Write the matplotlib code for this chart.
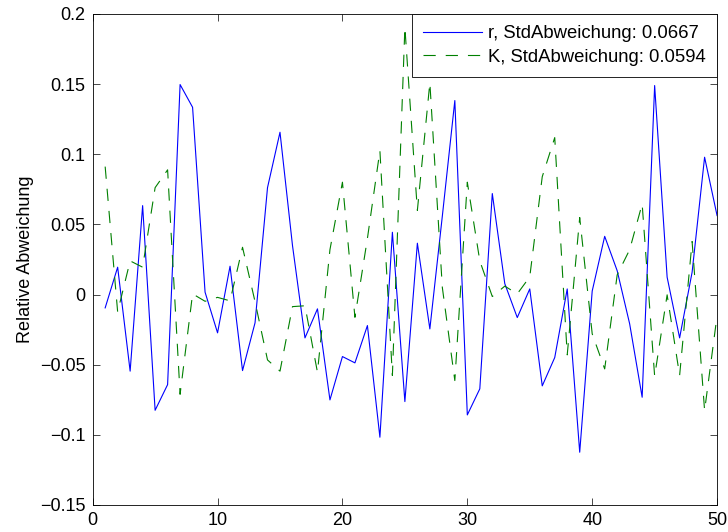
import numpy as np
import matplotlib
matplotlib.use("Agg")
import matplotlib.pyplot as plt

plt.rcParams['font.family'] = ['Liberation Sans', 'DejaVu Sans']

# sample index
x = np.arange(1, 51)

# relative deviation of r
r_dev = [-0.0095, 0.0195, -0.0546, 0.0634, -0.0825, -0.0642, 0.1497, 0.1335, 0.0017, -0.0273,
         0.0202, -0.0542, -0.0202, 0.0762, 0.1157, 0.0350, -0.0309, -0.0102, -0.0751, -0.0442,
         -0.0487, -0.0221, -0.1017, 0.0444, -0.0763, 0.0366, -0.0245, 0.0560, 0.1383, -0.0858,
         -0.0672, 0.0720, 0.0078, -0.0164, 0.0040, -0.0651, -0.0449, 0.0040, -0.1124, 0.0025,
         0.0415, 0.0170, -0.0209, -0.0732, 0.1490, 0.0124, -0.0309, 0.0159, 0.0979, 0.0563]

# relative deviation of K
k_dev = [0.0912, -0.0124, 0.0240, 0.0195, 0.0762, 0.0889, -0.0711, 0.0005, -0.0048, -0.0020,
         -0.0045, 0.0337, -0.0050, -0.0466, -0.0546, -0.0086, -0.0080, -0.0554, 0.0320, 0.0801,
         -0.0162, 0.0400, 0.1026, -0.0577, 0.1905, 0.0600, 0.1510, 0.0050, -0.0613, 0.0801,
         0.0240, -0.0014, 0.0060, 0.0005, 0.0126, 0.0840, 0.1119, -0.0430, 0.0549, -0.0280,
         -0.0530, 0.0140, 0.0320, 0.0646, -0.0582, -0.0002, -0.0577, 0.0378, -0.0827, -0.0150]

r_label = 'r, StdAbweichung: 0.0667'
k_label = 'K, StdAbweichung: 0.0594'

x_ticks = [0, 10, 20, 30, 40, 50]
y_ticks = [-0.15, -0.1, -0.05, 0, 0.05, 0.1, 0.15, 0.2]
y_tick_labels = ['\u22120.15', '\u22120.1', '\u22120.05', '0', '0.05', '0.1', '0.15', '0.2']

fig = plt.figure(figsize=(7.28, 5.32), dpi=100)
ax = fig.add_axes([0.1273, 0.0508, 0.8577, 0.9229])

ax.plot(x, r_dev, color=(0, 0, 1), linewidth=0.8, label=r_label)
ax.plot(x, k_dev, color=(0, 0.5, 0), linewidth=0.8, dashes=(11, 9), label=k_label)

ax.set_xlim(0, 50)
ax.set_ylim(-0.15, 0.2)
ax.set_xticks(x_ticks)
ax.set_yticks(y_ticks)
ax.set_yticklabels(y_tick_labels)
ax.tick_params(direction='in', top=True, right=True, length=5, width=0.5,
               labelsize=13, pad=5)
for s in ax.spines.values():
  s.set_linewidth(0.6)
ax.set_ylabel('Relative Abweichung', fontsize=13)
ax.yaxis.set_label_coords(-0.094, 0.5)

leg = ax.legend(loc='upper right', fontsize=13.3, borderaxespad=0, fancybox=False,
                framealpha=1, edgecolor='black', handlelength=3.2, handletextpad=0.35,
                labelspacing=0.35, borderpad=0.6)
leg.get_frame().set_linewidth(0.6)

fig.savefig('out.png', dpi=100)
